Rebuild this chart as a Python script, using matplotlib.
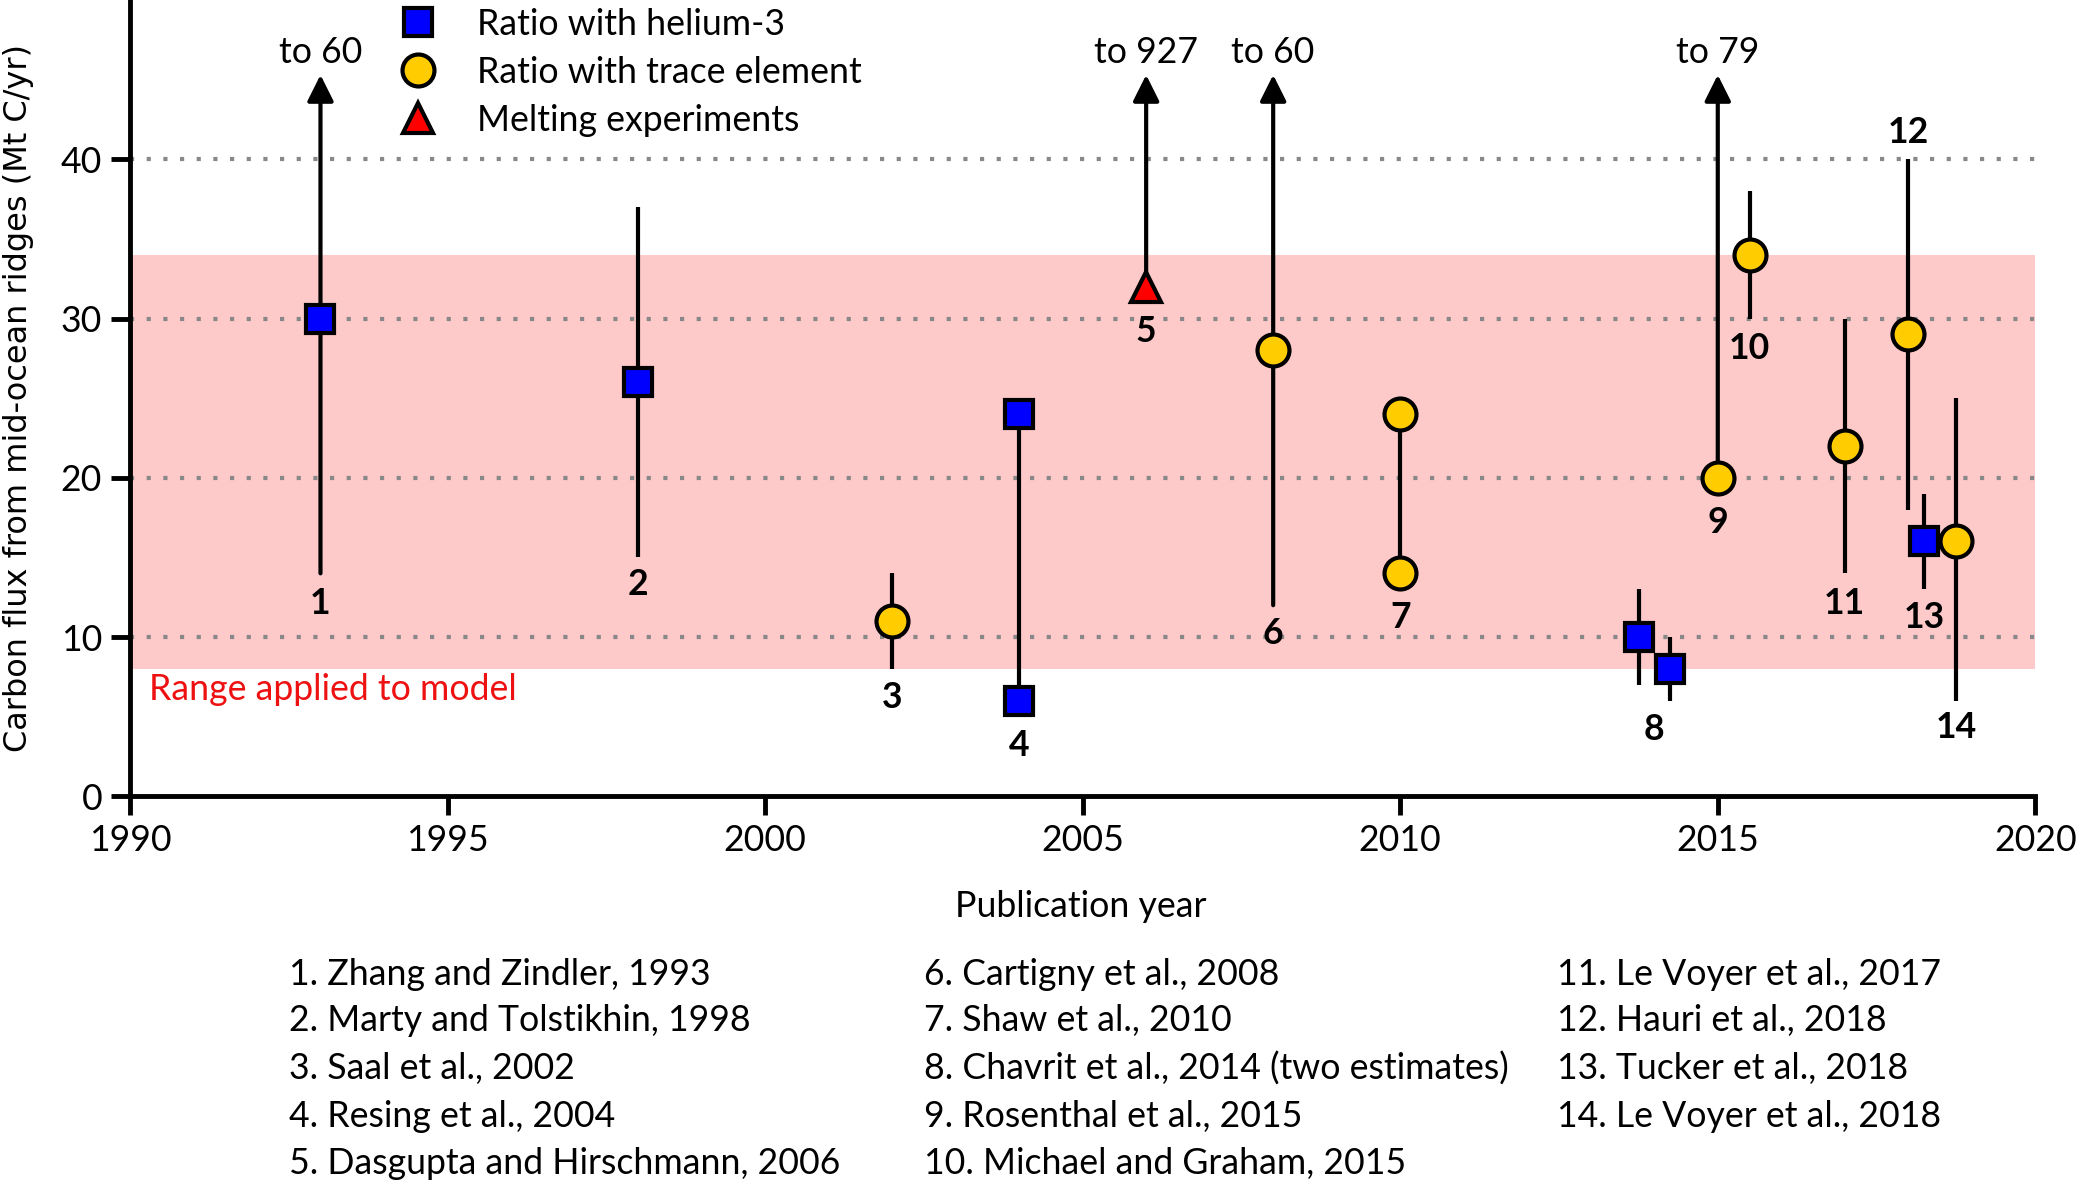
import matplotlib
matplotlib.use('Agg')
import matplotlib.pyplot as plt
from matplotlib.lines import Line2D

plt.rcParams['font.family'] = ['Lato', 'DejaVu Sans']

# --- data ---
# helium-3 ratio estimates (squares)
he_year = [1993, 1998, 2004, 2004, 2013.76, 2014.24, 2018.25]
he_val = [30, 26, 24, 6, 10, 8, 16]
# trace element ratio estimates (circles)
te_year = [2002, 2008, 2010, 2010, 2015, 2015.5, 2017, 2018, 2018.75]
te_val = [11, 28, 24, 14, 20, 34, 22, 29, 16]
# melting experiments (triangle)
me_year = [2006]
me_val = [32]

# vertical range lines (no arrow)
rng_year = [1998, 2002, 2004, 2010, 2013.76, 2014.24, 2015.5, 2017, 2018, 2018.25, 2018.75]
rng_lo = [15, 8, 6, 14, 7, 6, 30, 14, 18, 13, 6]
rng_hi = [37, 14, 24, 24, 13, 10, 38, 30, 40, 19, 25]

# ranges running off the top (arrows)
arr_year = [1993, 2006, 2008, 2015]
arr_lo = [14, 32, 12, 20]
arr_text = ['to 60', 'to 927', 'to 60', 'to 79']

# number labels
lab_num = ['1', '2', '3', '4', '5', '6', '7', '8', '9', '10', '11', '12', '13', '14']
lab_x = [1993, 1998, 2002, 2004, 2006, 2008, 2010, 2014, 2015, 2015.5, 2017, 2018, 2018.25, 2018.75]
lab_y = [12.1, 13.3, 6.2, 3.2, 29.2, 10.2, 11.2, 4.2, 17.2, 28.1, 12.1, 41.7, 11.2, 4.3]

band_lo, band_hi = 8, 34

refs = [
    '1. Zhang and Zindler, 1993',
    '2. Marty and Tolstikhin, 1998',
    '3. Saal et al., 2002',
    '4. Resing et al., 2004',
    '5. Dasgupta and Hirschmann, 2006',
    '6. Cartigny et al., 2008',
    '7. Shaw et al., 2010',
    '8. Chavrit et al., 2014 (two estimates)',
    '9. Rosenthal et al., 2015',
    '10. Michael and Graham, 2015',
    '11. Le Voyer et al., 2017',
    '12. Hauri et al., 2018',
    '13. Tucker et al., 2018',
    '14. Le Voyer et al., 2018',
]

FS = 25.7

fig = plt.figure(figsize=(20.79, 11.85), dpi=100)
ax = fig.add_axes([0.0625, 0.328, 0.9165, 0.672])

ax.axhspan(band_lo, band_hi, xmin=0, xmax=1, color='#fdc9c9', zorder=0, lw=0)
for g in [10, 20, 30, 40]:
    ax.axhline(g, color='#888888', ls=(0, (1, 3)), lw=3, zorder=1)

ax.vlines(rng_year, rng_lo, rng_hi, color='k', lw=3, zorder=2)
for x, lo, t in zip(arr_year, arr_lo, arr_text):
    ax.annotate('', xy=(x, 45.3), xytext=(x, lo),
                arrowprops=dict(arrowstyle='-|>', color='k', lw=3, mutation_scale=40,
                                shrinkA=0, shrinkB=0), zorder=2)
    ax.text(x, 46.7, t, ha='center', va='center', fontsize=FS)

ax.plot(he_year, he_val, 's', ms=20, mfc='#0000ff', mec='k', mew=3, zorder=4)
ax.plot(te_year, te_val, 'o', ms=23, mfc='#ffcc00', mec='k', mew=3, zorder=4)
ax.plot(me_year, me_val, '^', ms=22, mfc='#ff0000', mec='k', mew=3, zorder=4)

for n, x, y in zip(lab_num, lab_x, lab_y):
    ax.text(x, y, n, ha='center', va='center', fontsize=FS, fontweight='bold')

ax.text(1990.3, 6.7, 'Range applied to model', color='#ee1111', fontsize=FS,
        ha='left', va='center')

ax.set_xlim(1990, 2020)
ax.set_ylim(0, 50)
ax.set_xticks(range(1990, 2021, 5))
ax.set_yticks(range(0, 41, 10))
ax.spines['top'].set_visible(False)
ax.spines['right'].set_visible(False)
ax.spines['left'].set_linewidth(3.5)
ax.spines['bottom'].set_linewidth(3.5)
ax.tick_params(direction='out', length=14, width=3.5, labelsize=FS, pad=6)

handles = [
    Line2D([], [], ls='none', marker='s', ms=20, mfc='#0000ff', mec='k', mew=3),
    Line2D([], [], ls='none', marker='o', ms=23, mfc='#ffcc00', mec='k', mew=3),
    Line2D([], [], ls='none', marker='^', ms=22, mfc='#ff0000', mec='k', mew=3),
]
ax.legend(handles, ['Ratio with helium-3', 'Ratio with trace element', 'Melting experiments'],
          loc='upper left', bbox_to_anchor=(0.142, 0.99), frameon=False, fontsize=FS,
          handlelength=1.0, handletextpad=1.15, labelspacing=0.42, borderpad=0,
          borderaxespad=0)

fig.text(0.52, 0.235, 'Publication year', ha='center', va='center', fontsize=FS)
fig.text(0.009, 0.664, 'Carbon flux from mid-ocean ridges (Mt C/yr)', rotation=90,
         ha='center', va='center', fontsize=23, family='DejaVu Sans')

col_x = [0.139, 0.4445, 0.749]
row_y = [0.178, 0.1385, 0.0985, 0.058, 0.018]
for i, r in enumerate(refs):
    fig.text(col_x[i // 5], row_y[i % 5], r, ha='left', va='center', fontsize=FS)

fig.savefig('out.png', dpi=100)
